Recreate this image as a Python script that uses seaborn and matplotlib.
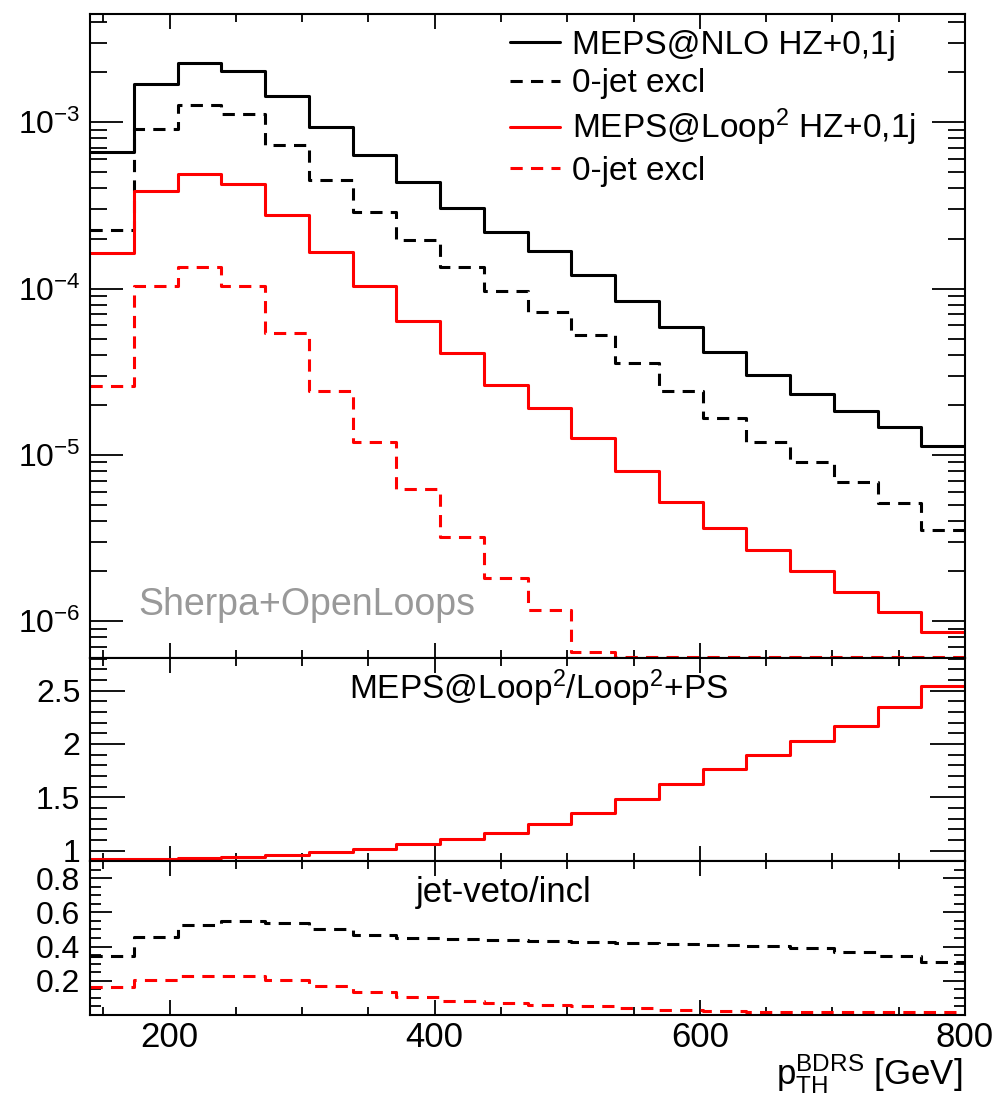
import numpy as np
import pandas as pd
import matplotlib
matplotlib.use("Agg")
import matplotlib.pyplot as plt
import seaborn as sns
from matplotlib.ticker import MultipleLocator, LogLocator, NullFormatter, FuncFormatter

# ---------------- data ----------------
edges = [140, 173, 206, 239, 272, 305, 338, 371, 404, 437, 470,
         503, 536, 569, 602, 635, 668, 701, 734, 767, 800]

nlo_incl = [6.6e-4, 1.70e-3, 2.26e-3, 2.03e-3, 1.43e-3, 9.4e-4, 6.36e-4, 4.36e-4,
            3.04e-4, 2.20e-4, 1.69e-4, 1.21e-4, 8.45e-5, 5.9e-5, 4.14e-5, 3.02e-5,
            2.31e-5, 1.84e-5, 1.47e-5, 1.13e-5]
nlo_0jet = [2.25e-4, 9.12e-4, 1.27e-3, 1.12e-3, 7.3e-4, 4.48e-4, 2.90e-4, 1.96e-4,
            1.35e-4, 9.7e-5, 7.27e-5, 5.26e-5, 3.58e-5, 2.42e-5, 1.67e-5, 1.20e-5,
            9.0e-6, 6.84e-6, 5.14e-6, 3.55e-6]
loop2_incl = [1.63e-4, 3.86e-4, 4.89e-4, 4.23e-4, 2.77e-4, 1.67e-4, 1.04e-4, 6.38e-5,
              4.08e-5, 2.63e-5, 1.90e-5, 1.27e-5, 8.03e-6, 5.24e-6, 3.62e-6, 2.67e-6,
              1.99e-6, 1.49e-6, 1.13e-6, 8.57e-7]
loop2_0jet = [2.59e-5, 1.04e-4, 1.34e-4, 1.03e-4, 5.38e-5, 2.43e-5, 1.20e-5, 6.2e-6,
              3.22e-6, 1.81e-6, 1.17e-6, 6.56e-7, 6.1e-7, 6.1e-7, 6.1e-7, 6.1e-7,
              6.1e-7, 6.1e-7, 6.1e-7, 6.1e-7]

ratio_loop2 = [0.921, 0.921, 0.930, 0.939, 0.958, 0.986, 1.020, 1.061, 1.113, 1.169,
               1.250, 1.350, 1.480, 1.623, 1.770, 1.900, 2.027, 2.164, 2.344, 2.540]

veto_nlo = [0.346, 0.454, 0.525, 0.551, 0.537, 0.502, 0.469, 0.450, 0.444, 0.440,
            0.434, 0.428, 0.420, 0.414, 0.409, 0.401, 0.389, 0.370, 0.343, 0.311]
veto_loop2 = [0.161, 0.204, 0.229, 0.229, 0.206, 0.171, 0.132, 0.107, 0.083, 0.069,
              0.060, 0.050, 0.039, 0.028, 0.022, 0.018, 0.018, 0.016, 0.016, 0.016]

legend_labels = ["MEPS@NLO HZ+0,1j", "0-jet excl",
                 "MEPS@Loop$^2$ HZ+0,1j", "0-jet excl"]

# ---------------- style ----------------
sns.set_theme(style="ticks")
plt.rcParams["font.family"] = ["Liberation Sans", "DejaVu Sans"]
plt.rcParams["mathtext.fontset"] = "custom"
plt.rcParams["mathtext.rm"] = "Liberation Sans"
plt.rcParams["mathtext.it"] = "Liberation Sans:italic"
plt.rcParams["mathtext.bf"] = "Liberation Sans:bold"
plt.rcParams["axes.unicode_minus"] = True
for key in ("text.color", "axes.labelcolor", "xtick.color", "ytick.color",
            "axes.edgecolor", "xtick.labelcolor", "ytick.labelcolor"):
    plt.rcParams[key] = "black"

LW = 2.2
DASH = (0, (4, 2.7))

fig = plt.figure(figsize=(9.99, 11.01), dpi=100)
L, W = 0.09009, 0.87588
ax1 = fig.add_axes([L, 0.40236, W, 0.58492])
ax2 = fig.add_axes([L, 0.21798, W, 0.18438])
ax3 = fig.add_axes([L, 0.07811, W, 0.13987])


def step_df(vals):
    return pd.DataFrame({"x": edges, "y": list(vals) + [vals[-1]]})


def draw(ax, vals, color, ls):
    sns.lineplot(data=step_df(vals), x="x", y="y", ax=ax, color=color, lw=LW,
                 linestyle=ls, drawstyle="steps-post", estimator=None,
                 sort=False, legend=False)


ax1.set_yscale("log")
draw(ax1, nlo_incl, "black", "-")
draw(ax1, nlo_0jet, "black", DASH)
draw(ax1, loop2_incl, "red", "-")
draw(ax1, loop2_0jet, "red", DASH)

draw(ax2, ratio_loop2, "red", "-")

draw(ax3, veto_nlo, "black", DASH)
draw(ax3, veto_loop2, "red", DASH)

# ---------------- axes ----------------
ax1.set_ylim(6.0e-7, 4.48e-3)
ax2.set_ylim(0.904, 2.805)
ax3.set_ylim(0.0, 0.9)

ax1.yaxis.set_major_locator(LogLocator(base=10, numticks=20))
ax1.yaxis.set_minor_locator(LogLocator(base=10, subs=np.arange(2, 10), numticks=20))
ax1.yaxis.set_minor_formatter(NullFormatter())
ax2.yaxis.set_major_locator(MultipleLocator(0.5))
ax2.yaxis.set_minor_locator(MultipleLocator(0.1))
ax2.yaxis.set_major_formatter(FuncFormatter(lambda v, p: f"{v:g}"))
ax3.yaxis.set_minor_locator(MultipleLocator(0.05))
ax3.set_yticks([0.2, 0.4, 0.6, 0.8])
ax3.yaxis.set_major_formatter(FuncFormatter(lambda v, p: f"{v:g}"))

ylen = {ax1: (23.8, 12.2), ax2: (25, 12), ax3: (16, 8)}
for ax in (ax1, ax2, ax3):
    ax.set_xlim(140, 800)
    ax.xaxis.set_major_locator(MultipleLocator(200))
    ax.xaxis.set_minor_locator(MultipleLocator(50))
    ax.set_xlabel("")
    ax.set_ylabel("")
    for s in ax.spines.values():
        s.set_visible(True)
        s.set_linewidth(1.5)
        s.set_color("black")
    ax.tick_params(axis="both", which="both", direction="in", top=True, right=True,
                   color="black", labelcolor="black", width=1.3)
    ax.tick_params(axis="x", which="major", length=10.5)
    ax.tick_params(axis="x", which="minor", length=5.5)
    ax.tick_params(axis="y", which="major", length=ylen[ax][0], labelsize=23, pad=7)
    ax.tick_params(axis="y", which="minor", length=ylen[ax][1])

ax1.tick_params(axis="x", labelbottom=False)
ax2.tick_params(axis="x", labelbottom=False)
ax3.tick_params(axis="x", labelsize=25, pad=4)

# ---------------- texts ----------------
ax1.legend(handles=ax1.get_lines()[:4], labels=legend_labels, loc="upper left",
           bbox_to_anchor=(0.48, 0.975), borderpad=0, borderaxespad=0,
           handlelength=1.5, handletextpad=0.35, labelspacing=0.22,
           fontsize=24, frameon=False)

ax1.text(0.055, 0.067, "Sherpa+OpenLoops", transform=ax1.transAxes,
         fontsize=27, color="#999999", ha="left", va="baseline")
ax2.text(0.513, 0.80, "MEPS@Loop$^2$/Loop$^2$+PS", transform=ax2.transAxes,
         fontsize=24, ha="center", va="baseline")
ax3.text(0.473, 0.732, "jet-veto/incl", transform=ax3.transAxes,
         fontsize=25, ha="center", va="baseline")

fig.text(0.963, 0.0155, r"$\mathrm{p}_{\mathrm{TH}}^{\mathrm{BDRS}}$ [GeV]",
         fontsize=25, ha="right", va="baseline")

fig.savefig("out.png", dpi=100)
